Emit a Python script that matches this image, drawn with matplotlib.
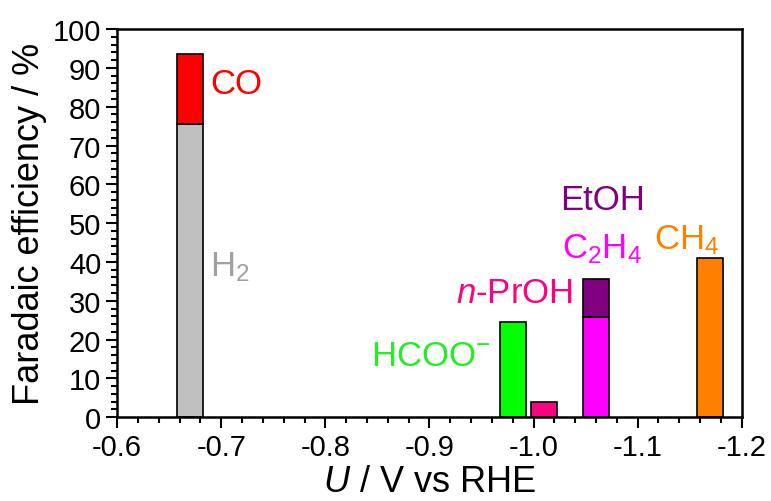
import matplotlib
matplotlib.use("Agg")
import matplotlib.pyplot as plt
from matplotlib.ticker import MultipleLocator

plt.rcParams['font.family'] = ['Liberation Sans', 'DejaVu Sans']
plt.rcParams['mathtext.fontset'] = 'custom'
plt.rcParams['mathtext.rm'] = 'Liberation Sans'
plt.rcParams['mathtext.it'] = 'Liberation Sans:italic'

# faradaic efficiencies (%) at each potential (V vs RHE)
potentials = [-0.67, -0.98, -1.01, -1.06, -1.17]
fe_h2 = 75.6
fe_co = 17.9
fe_hcoo = 24.6
fe_proh = 3.8
fe_c2h4 = 25.7
fe_etoh = 9.8
fe_ch4 = 41.0

bar_w = 0.025

fig = plt.figure(figsize=(7.71, 5.02), dpi=100)
ax = fig.add_axes([0.152, 0.167, 0.810, 0.773])

kw = dict(width=bar_w, edgecolor='black', linewidth=1.2)
ax.bar(potentials[0], fe_h2, color='#C0C0C0', **kw)
ax.bar(potentials[0], fe_co, bottom=fe_h2, color='#FF0000', **kw)
ax.bar(potentials[1], fe_hcoo, color='#00FF00', **kw)
ax.bar(potentials[2], fe_proh, color='#FF0080', **kw)
ax.bar(potentials[3], fe_c2h4, color='#FF00FF', **kw)
ax.bar(potentials[3], fe_etoh, bottom=fe_c2h4, color='#800080', **kw)
ax.bar(potentials[4], fe_ch4, color='#FF8000', **kw)

# product labels
fs = 25
ax.text(-0.689, 86, 'CO', color='#FF0000', fontsize=fs, ha='left', va='center')
ax.text(-0.689, 39, 'H$_2$', color='#A0A0A0', fontsize=fs, ha='left', va='center')
ax.text(-0.959, 16, 'HCOO$^{-}$', color='#22EE22', fontsize=fs, ha='right', va='center')
ax.text(-1.038, 32, '$n$-PrOH', color='#FF0080', fontsize=fs, ha='right', va='center')
ax.text(-1.066, 56, 'EtOH', color='#800080', fontsize=fs, ha='center', va='center')
ax.text(-1.066, 43.5, 'C$_2$H$_4$', color='#FF00FF', fontsize=fs, ha='center', va='center')
ax.text(-1.147, 46, 'CH$_4$', color='#FF8000', fontsize=fs, ha='center', va='center')

ax.set_xlim(-0.6, -1.2)
ax.set_ylim(0, 100)
ax.xaxis.set_major_locator(MultipleLocator(0.1))
ax.xaxis.set_minor_locator(MultipleLocator(0.02))
ax.yaxis.set_major_locator(MultipleLocator(10))
ax.yaxis.set_minor_locator(MultipleLocator(2))
ax.xaxis.set_major_formatter(plt.FuncFormatter(lambda v, p: f'{v:.1f}'.replace('\u2212', '-')))

ax.tick_params(which='both', direction='out', width=1.5, top=False, right=False, labelsize=21)
ax.tick_params(which='major', length=8)
ax.tick_params(which='minor', length=4)
for s in ax.spines.values():
    s.set_linewidth(1.8)

ax.set_xlabel('$U$ / V vs RHE', fontsize=26, labelpad=2)
ax.set_ylabel('Faradaic efficiency / %', fontsize=26, labelpad=4)

fig.savefig('out.png', dpi=100)
